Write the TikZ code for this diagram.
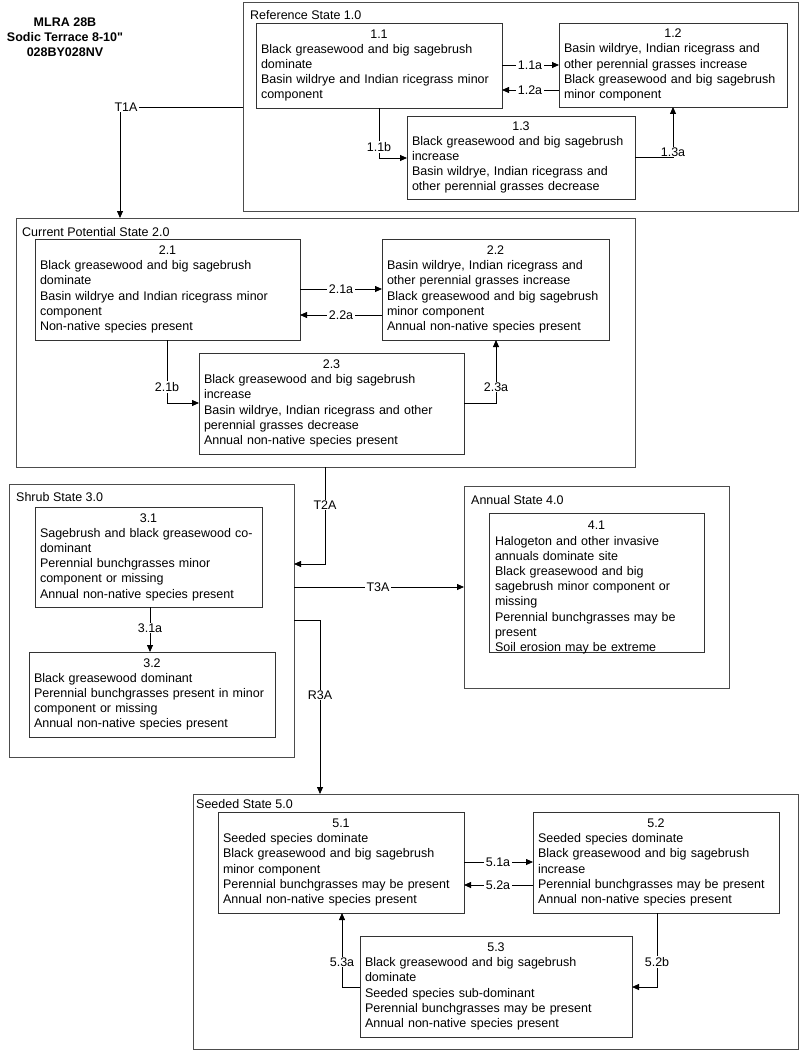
\documentclass[tikz,border=0pt]{standalone}
\usepackage{fontspec}
\setmainfont{Liberation Sans}
\usetikzlibrary{arrows.meta}
\begin{document}
\begin{tikzpicture}[x=1pt,y=-1pt,
  font=\fontsize{12.5}{15.2}\selectfont,
  state/.style={draw=black!70,line width=0.9pt,anchor=north west,inner sep=0pt,outer sep=0pt},
  stitle/.style={anchor=west,inner sep=0pt},
  sub/.style={draw=black!80,line width=0.9pt,anchor=north west,inner xsep=5pt,inner ysep=0pt,outer sep=0pt,align=left},
  conn/.style={draw=black,line width=0.8pt},
  arr/.style={conn,-{Triangle[length=7pt,width=6pt]}},
  lab/.style={fill=white,inner xsep=1.5pt,inner ysep=1pt}]
\fill[white] (0,0) rectangle (800,1051);
\useasboundingbox (0,0) rectangle (800,1051);

% title
\node[font=\fontsize{12.5}{15}\selectfont\bfseries,align=center] (title) at (65,37) {MLRA 28B\\Sodic Terrace 8-10{\addfontfeatures{Ligatures=TeXOff}"}\\028BY028NV};

% states
\node[state,minimum width=555,minimum height=209] (S1) at (243,2) {};
\node[stitle] (S1t) at (250,15) {Reference State 1.0};
\node[state,minimum width=619,minimum height=249] (S2) at (16,218) {};
\node[stitle] (S2t) at (22,232) {Current Potential State 2.0};
\node[state,minimum width=285,minimum height=273] (S3) at (9,484) {};
\node[stitle] (S3t) at (16,497) {Shrub State 3.0};
\node[state,minimum width=265,minimum height=202] (S4) at (464,486) {};
\node[stitle] (S4t) at (471,500) {Annual State 4.0};
\node[state,minimum width=605,minimum height=255] (S5) at (193,794) {};
\node[stitle] (S5t) at (196,804) {Seeded State 5.0};

% community boxes
\node[sub,text width=236,minimum height=85] (b11) at (256,23) {\makebox[\hsize]{1.1}\\Black greasewood and big sagebrush\\dominate\\Basin wildrye and Indian ricegrass minor\\component};
\node[sub,text width=218,minimum height=84] (b12) at (559,23) {\makebox[\hsize]{1.2}\\Basin wildrye, Indian ricegrass and\\other perennial grasses increase\\Black greasewood and big sagebrush\\minor component};
\node[sub,text width=218,minimum height=83] (b13) at (407,116) {\makebox[\hsize]{1.3}\\Black greasewood and big sagebrush\\increase\\Basin wildrye, Indian ricegrass and\\other perennial grasses decrease};

\node[sub,text width=255,minimum height=101] (b21) at (35,239) {\makebox[\hsize]{2.1}\\Black greasewood and big sagebrush\\dominate\\Basin wildrye and Indian ricegrass minor\\component\\Non-native species present};
\node[sub,text width=217,minimum height=101] (b22) at (382,239) {\makebox[\hsize]{2.2}\\Basin wildrye, Indian ricegrass and\\other perennial grasses increase\\Black greasewood and big sagebrush\\minor component\\Annual non-native species present};
\node[sub,text width=255,minimum height=101] (b23) at (199,353) {\makebox[\hsize]{2.3}\\Black greasewood and big sagebrush\\increase\\Basin wildrye, Indian ricegrass and other\\perennial grasses decrease\\Annual non-native species present};

\node[sub,text width=217,minimum height=100] (b31) at (35,507) {\makebox[\hsize]{3.1}\\Sagebrush and black greasewood co-\\dominant\\Perennial bunchgrasses minor\\component or missing\\Annual non-native species present};
\node[sub,text width=236,minimum height=85] (b32) at (29,652) {\makebox[\hsize]{3.2}\\Black greasewood dominant\\Perennial bunchgrasses present in minor\\component or missing\\Annual non-native species present};

\node[sub,minimum width=215,minimum height=139] (b41) at (489,513) {};
\node[anchor=north,inner sep=0pt,text width=203,align=left] (t41) at ([yshift=-8pt]b41.north) {\makebox[\hsize]{4.1}\\Halogeton and other invasive\\annuals dominate site\\Black greasewood and big\\sagebrush minor component or\\missing\\Perennial bunchgrasses may be\\present\\Soil erosion may be extreme};

\node[sub,text width=236,minimum height=101] (b51) at (218,812) {\makebox[\hsize]{5.1}\\Seeded species dominate\\Black greasewood and big sagebrush\\minor component\\Perennial bunchgrasses may be present\\Annual non-native species present};
\node[sub,text width=236,minimum height=101] (b52) at (533,812) {\makebox[\hsize]{5.2}\\Seeded species dominate\\Black greasewood and big sagebrush\\increase\\Perennial bunchgrasses may be present\\Annual non-native species present};
\node[sub,text width=262,minimum height=101] (b53) at (360,936) {\makebox[\hsize]{5.3}\\Black greasewood and big sagebrush\\dominate\\Seeded species sub-dominant\\Perennial bunchgrasses may be present\\Annual non-native species present};

% helper coordinates
\coordinate (r11a) at (530,65);
\coordinate (r12a) at (530,90);
\coordinate (k11b) at (379,158);
\coordinate (k13a) at (673,157);
\coordinate (kT1A) at (120,107);
\coordinate (r21a) at (341,289);
\coordinate (r22a) at (341,315);
\coordinate (k21b) at (167,403);
\coordinate (k23a) at (496,403);
\coordinate (kT2A) at (325,564);
\coordinate (c31a) at (150,628);
\coordinate (rT3A) at (378,587);
\coordinate (kR3A) at (320,620);
\coordinate (r51a) at (498,862);
\coordinate (r52a) at (498,885);
\coordinate (k53a) at (342,987);
\coordinate (k52b) at (657,987);

% connectors, state 1
\draw[arr] (b11.east |- r11a) -- (b12.west |- r11a);
\draw[arr] (b12.west |- r12a) -- (b11.east |- r12a);
\draw[arr] (b11.south -| k11b) -- (k11b) -- (b13.west |- k11b);
\draw[arr] (b13.east |- k13a) -- (k13a) -- (b12.south -| k13a);
\node[lab] (l11a) at (r11a) {1.1a};
\node[lab] (l12a) at (r12a) {1.2a};
\node[lab] (l11b) at (379,147) {1.1b};
\node[lab] (l13a) at (673,152) {1.3a};

% T1A
\draw[arr] (S1.west |- kT1A) -- (kT1A) -- (S2.north -| kT1A);
\node[lab] (lT1A) at (126,107) {T1A};

% state 2
\draw[arr] (b21.east |- r21a) -- (b22.west |- r21a);
\draw[arr] (b22.west |- r22a) -- (b21.east |- r22a);
\draw[arr] (b21.south -| k21b) -- (k21b) -- (b23.west |- k21b);
\draw[arr] (b23.east |- k23a) -- (k23a) -- (b22.south -| k23a);
\node[lab] (l21a) at (r21a) {2.1a};
\node[lab] (l22a) at (r22a) {2.2a};
\node[lab] (l21b) at (167,387) {2.1b};
\node[lab] (l23a) at (496,387) {2.3a};

% T2A
\draw[arr] (S2.south -| kT2A) -- (kT2A) -- (S3.east |- kT2A);
\node[lab] (lT2A) at (325,505) {T2A};

% state 3
\draw[arr] (b31.south -| c31a) -- (b32.north -| c31a);
\node[lab] (l31a) at (c31a) {3.1a};

% T3A
\draw[arr] (S3.east |- rT3A) -- (S4.west |- rT3A);
\node[lab] (lT3A) at (rT3A) {T3A};

% R3A
\draw[arr] (S3.east |- kR3A) -- (kR3A) -- (S5.north -| kR3A);
\node[lab] (lR3A) at (320,695) {R3A};

% state 5
\draw[arr] (b51.east |- r51a) -- (b52.west |- r51a);
\draw[arr] (b52.west |- r52a) -- (b51.east |- r52a);
\draw[arr] (b53.west |- k53a) -- (k53a) -- (b51.south -| k53a);
\draw[arr] (b52.south -| k52b) -- (k52b) -- (b53.east |- k52b);
\node[lab] (l51a) at (r51a) {5.1a};
\node[lab] (l52a) at (r52a) {5.2a};
\node[lab] (l53a) at (342,962) {5.3a};
\node[lab] (l52b) at (657,962) {5.2b};
\end{tikzpicture}
\end{document}
